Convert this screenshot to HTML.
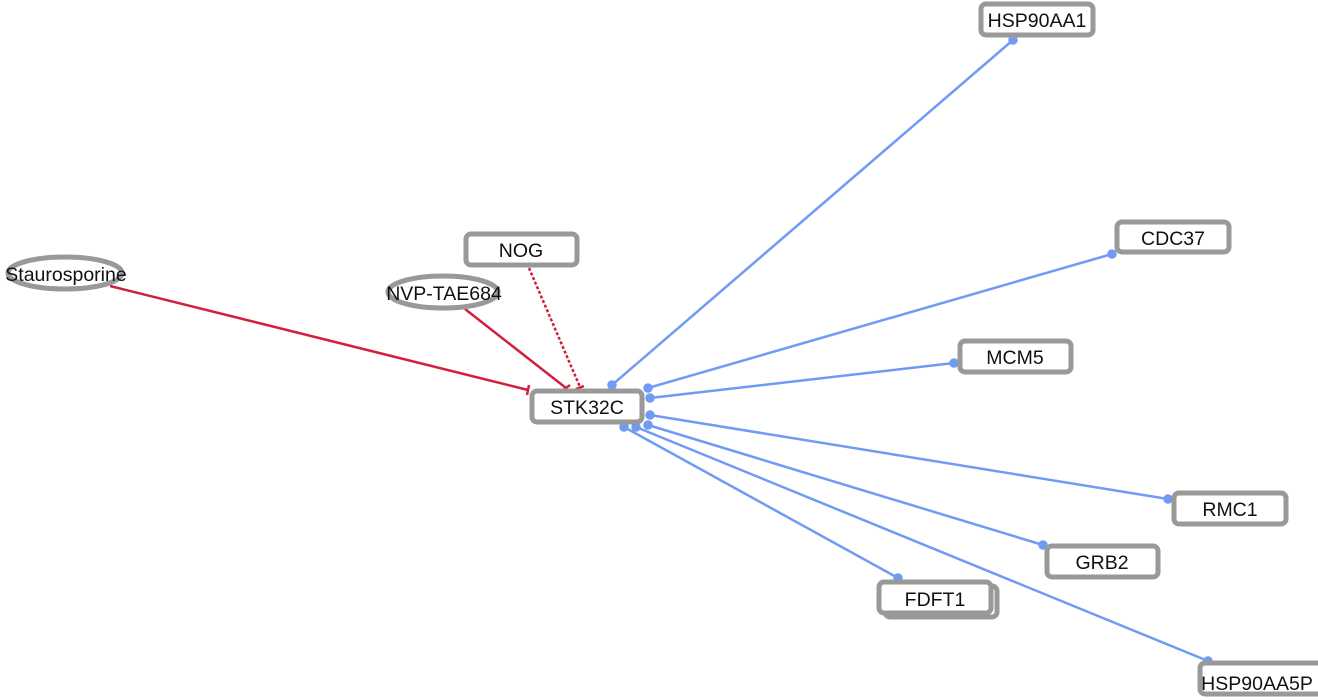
<!DOCTYPE html>
<html><head><style>body{margin:0;background:#fff}svg{display:block}text{font-family:"Liberation Sans",sans-serif;font-size:19.5px;fill:#111}</style></head><body>
<svg width="1318" height="700" viewBox="0 0 1318 700">
<g stroke="#6f9bf5" stroke-width="2.5" fill="#6f9bf5">
<line x1="612" y1="385" x2="1013" y2="40"/><circle cx="612" cy="385" r="3.5"/><circle cx="1013" cy="40" r="3.5"/>
<line x1="648" y1="388" x2="1112" y2="254"/><circle cx="648" cy="388" r="3.5"/><circle cx="1112" cy="254" r="3.5"/>
<line x1="650" y1="398" x2="954" y2="363"/><circle cx="650" cy="398" r="3.5"/><circle cx="954" cy="363" r="3.5"/>
<line x1="650" y1="415" x2="1168" y2="499"/><circle cx="650" cy="415" r="3.5"/><circle cx="1168" cy="499" r="3.5"/>
<line x1="648" y1="425" x2="1043" y2="545"/><circle cx="648" cy="425" r="3.5"/><circle cx="1043" cy="545" r="3.5"/>
<line x1="624" y1="427" x2="898" y2="578"/><circle cx="624" cy="427" r="3.5"/><circle cx="898" cy="578" r="3.5"/>
<line x1="636" y1="427" x2="1208" y2="661"/><circle cx="636" cy="427" r="3.5"/><circle cx="1208" cy="661" r="3.5"/>
</g>
<g stroke="#d21f3c" stroke-width="2.5" fill="none">
<line x1="110" y1="286" x2="528" y2="390"/><line x1="529" y1="385" x2="527" y2="395"/>
<line x1="465" y1="309" x2="566" y2="388"/><line x1="562" y1="391" x2="570" y2="385"/>
<line x1="529" y1="268" x2="580" y2="387" stroke-dasharray="3,2"/><line x1="576" y1="389" x2="584" y2="386"/>
</g>
<g fill="#fff" stroke="#999" stroke-width="5">
<rect x="981" y="4" width="112" height="31" rx="5"/>
<rect x="1117" y="222" width="112" height="30" rx="5"/>
<rect x="960" y="341" width="111" height="31" rx="5"/>
<rect x="532" y="391" width="110" height="31" rx="5"/>
<rect x="466" y="234" width="111" height="31" rx="5"/>
<rect x="1174" y="493" width="112" height="31" rx="5"/>
<rect x="1047" y="546" width="111" height="31" rx="5"/>
<rect x="885" y="586" width="112" height="31" rx="5"/>
<rect x="879" y="582" width="112" height="31" rx="5"/>
<rect x="1200" y="663" width="125" height="31" rx="5"/>
<ellipse cx="65" cy="273" rx="57" ry="16"/>
<ellipse cx="443" cy="292" rx="55" ry="16"/>
</g>
<g text-anchor="middle">
<text x="1037" y="27">HSP90AA1</text>
<text x="1173" y="245">CDC37</text>
<text x="1015" y="364">MCM5</text>
<text x="587" y="414">STK32C</text>
<text x="521" y="257">NOG</text>
<text x="1230" y="516">RMC1</text>
<text x="1102" y="569">GRB2</text>
<text x="935" y="606">FDFT1</text>
<text x="1257" y="690">HSP90AA5P</text>
<text x="66" y="281">Staurosporine</text>
<text x="444" y="300">NVP-TAE684</text>
</g>
</svg>
</body></html>
